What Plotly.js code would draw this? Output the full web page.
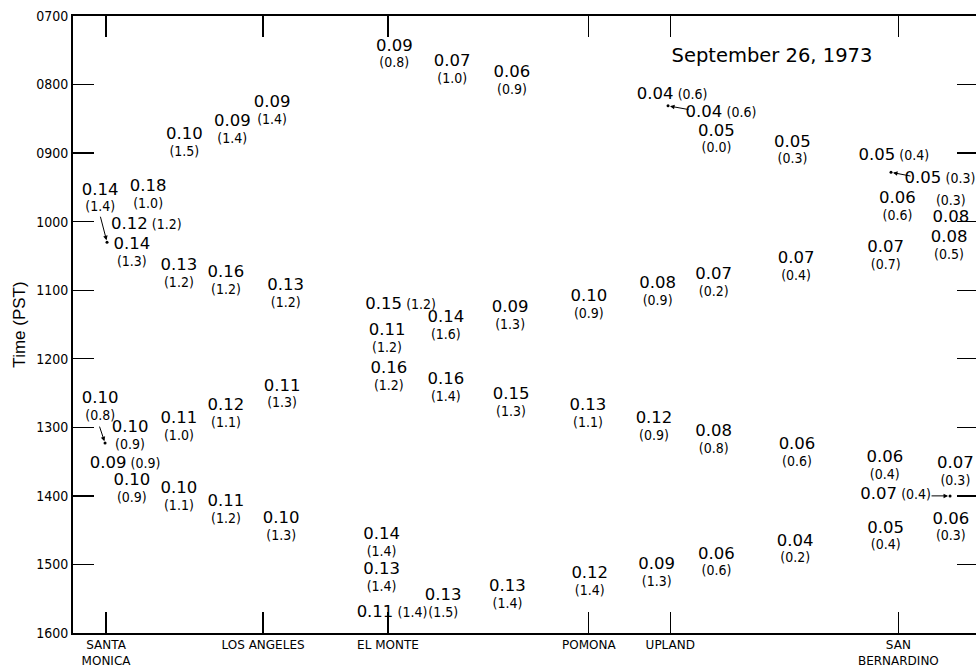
<!DOCTYPE html>
<html>
<head>
<meta charset="utf-8">
<script src="https://cdn.plot.ly/plotly-3.0.1.min.js"></script>
<style>
  html, body { margin: 0; padding: 0; background: #fff; overflow: hidden; }
  #chart { width: 980px; height: 667px; }
</style>
</head>
<body>
<div id="chart"></div>
<script>
// Stations along the traverse (distance units along the x axis)
const stationNames = ['SANTA<br>MONICA', 'LOS ANGELES', 'EL MONTE', 'POMONA', 'UPLAND', 'SAN<br>BERNARDINO'];
const stationDist = [3.65, 21.0, 34.8, 57.0, 66.0, 91.2];

// Time axis (hours, PST)
const timeTicks = [7, 8, 9, 10, 11, 12, 13, 14, 15, 16];
const timeLabels = ['0700', '0800', '0900', '1000', '1100', '1200', '1300', '1400', '1500', '1600'];

// Measurements: main value, value in parentheses, position, time
const mainVal = [0.09, 0.09, 0.10, 0.14, 0.18, 0.12, 0.14, 0.13, 0.16, 0.13,
                 0.09, 0.07, 0.06, 0.15, 0.14, 0.09, 0.10, 0.04, 0.04, 0.05,
                 0.05, 0.05, 0.05, 0.06, 0.08, 0.08, 0.07, 0.07, 0.07, 0.08,
                 0.10, 0.10, 0.09, 0.10, 0.11, 0.10, 0.12, 0.11, 0.11, 0.10,
                 0.11, 0.16, 0.16, 0.15, 0.13, 0.14, 0.13, 0.11, 0.13, 0.13,
                 0.12, 0.12, 0.08, 0.06, 0.06, 0.07, 0.07, 0.06, 0.05, 0.04,
                 0.06, 0.09];
const parenVal = [1.4, 1.4, 1.5, 1.4, 1.0, 1.2, 1.3, 1.2, 1.2, 1.2,
                  0.8, 1.0, 0.9, 1.2, 1.6, 1.3, 0.9, 0.6, 0.6, 0.0,
                  0.3, 0.4, 0.3, 0.6, 0.3, 0.5, 0.7, 0.4, 0.2, 0.9,
                  0.8, 0.9, 0.9, 0.9, 1.0, 1.1, 1.1, 1.2, 1.3, 1.3,
                  1.2, 1.2, 1.4, 1.3, 1.1, 1.4, 1.4, 1.4, 1.5, 1.4,
                  1.4, 0.9, 0.8, 0.6, 0.4, 0.4, 0.3, 0.3, 0.4, 0.2,
                  0.6, 1.3];
const dist = [22.0, 17.6, 12.3, 3.0, 8.3, 8.1, 6.5, 11.7, 16.9, 23.5,
              35.5, 41.9, 48.5, 36.2, 41.2, 48.3, 57.0, 66.2, 71.6, 71.1,
              79.5, 90.7, 95.8, 91.1, 97.0, 96.8, 89.8, 79.9, 70.8, 64.6,
              3.0, 6.3, 5.75, 6.5, 11.7, 11.7, 16.9, 16.9, 23.1, 23.0,
              34.7, 34.9, 41.2, 48.4, 56.9, 34.1, 34.1, 35.25, 40.9, 48.0,
              57.1, 64.2, 70.8, 80.0, 89.7, 90.9, 97.5, 97.0, 89.8, 79.8,
              71.1, 64.5];
const timeH = [8.41, 8.68, 8.87, 9.68, 9.63, 10.06, 10.47, 10.78, 10.89, 11.07,
               7.58, 7.80, 7.96, 11.22, 11.54, 11.40, 11.24, 8.16, 8.43, 8.82,
               8.98, 9.06, 9.39, 9.80, 9.83, 10.37, 10.52, 10.68, 10.91, 11.05,
               12.72, 13.14, 13.55, 13.92, 13.01, 14.03, 12.82, 14.23, 12.54, 14.47,
               11.73, 12.29, 12.44, 12.66, 12.83, 14.71, 15.22, 15.72, 15.59, 15.47,
               15.28, 13.01, 13.20, 13.39, 13.58, 14.00, 13.67, 14.48, 14.61, 14.80,
               14.99, 15.14];
// label arrangement: s = stacked, i = one line, r = parenthesis above
const form = ['s','s','s','s','s','i','s','s','s','s',
              's','s','s','i','s','s','s','i','i','s',
              's','i','i','s','r','s','s','s','s','s',
              's','s','i','s','s','s','s','s','s','s',
              's','s','s','s','s','s','s','i','s','s',
              's','s','s','s','s','i','s','s','s','s',
              's','s'];

// Points referred to by arrows
const markDist = [3.76, 3.54, 65.75, 90.39, 96.91];
const markTime = [10.30, 13.23, 8.31, 9.28, 14.00];

const BIG = "font-size:16.5px;font-family:'DejaVu Sans'";
const SMALL = "font-size:14px;font-family:'DejaVu Sans Condensed'";
const labels = mainVal.map((v, i) => {
  const a = `<span style="${BIG}">${v.toFixed(2)}</span>`;
  const b = `<span style="${SMALL}">(${parenVal[i].toFixed(1)})</span>`;
  if (form[i] === 'i') return a + '&nbsp;' + b;
  if (form[i] === 'r') return b + '<br>' + a;
  return a + '<br>' + b;
});

const traces = [
  {
    type: 'scatter', mode: 'text',
    x: dist, y: timeH, text: labels,
    textposition: 'middle center',
    textfont: { family: 'DejaVu Sans', size: 13, color: '#000' },
    hoverinfo: 'skip', showlegend: false, cliponaxis: false
  },
  {
    type: 'scatter', mode: 'markers',
    x: markDist, y: markTime,
    marker: { size: 3, color: '#000' },
    hoverinfo: 'skip', showlegend: false
  }
];

const tails = [[-7, -27], [-6, -18], [22, 4], [21, 4], [-20, 0]];
const annotations = markDist.map((d, i) => ({
  x: d, y: markTime[i], xref: 'x', yref: 'y',
  text: '', showarrow: true,
  ax: tails[i][0], ay: tails[i][1],
  arrowhead: 2, arrowsize: 0.9, arrowwidth: 1, arrowcolor: '#000', standoff: 2
}));

const layout = {
  width: 980, height: 667,
  margin: { l: 73, r: 2, t: 16, b: 34 },
  paper_bgcolor: '#fff', plot_bgcolor: '#fff',
  title: {
    text: 'September 26, 1973',
    font: { family: 'DejaVu Sans', size: 19.5, color: '#000' },
    x: 772 / 980, xref: 'container', xanchor: 'center',
    y: 1 - 55 / 667, yref: 'container', yanchor: 'middle'
  },
  xaxis: {
    range: [0, 100],
    tickmode: 'array', tickvals: stationDist, ticktext: stationNames,
    ticks: 'inside', ticklen: 21, tickwidth: 1.3, tickcolor: '#000',
    showline: true, linecolor: '#000', linewidth: 2, mirror: 'ticks',
    showgrid: false, zeroline: false,
    ticklabelstandoff: 0,
    tickfont: { family: 'DejaVu Sans', size: 12, color: '#000' }
  },
  yaxis: {
    range: [16, 7],
    tickmode: 'array', tickvals: timeTicks, ticktext: timeLabels,
    ticks: 'inside', ticklen: 21, tickwidth: 1.3, tickcolor: '#000',
    showline: true, linecolor: '#000', linewidth: 2, mirror: 'ticks',
    showgrid: false, zeroline: false,
    tickfont: { family: 'DejaVu Sans Condensed', size: 14, color: '#000' },
    title: { text: 'Time (PST)', font: { family: 'Liberation Sans', size: 17, color: '#000' }, standoff: 6 }
  },
  annotations: annotations
};

Plotly.newPlot('chart', traces, layout, { staticPlot: true, displayModeBar: false });
</script>
</body>
</html>
